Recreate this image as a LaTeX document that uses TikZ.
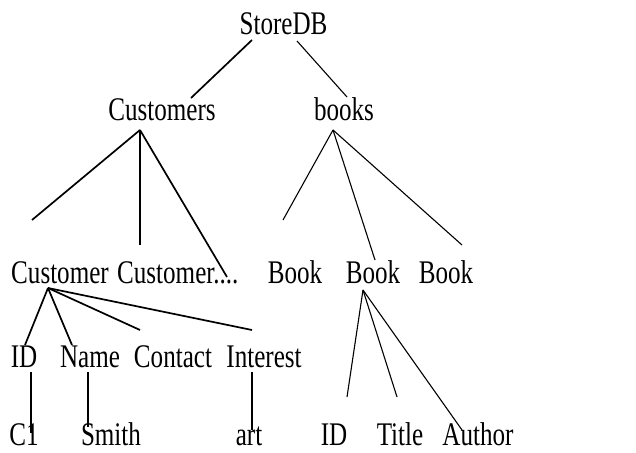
\documentclass[tikz,border=0pt]{standalone}
\usepackage{fontspec}
\setmainfont{Liberation Serif}[FakeStretch=0.76]
\tikzset{
  lbl/.style={anchor=base, inner sep=0pt, font=\fontsize{33}{36}\selectfont},
  bold line/.style={line width=1.7pt},
  thin line/.style={line width=1.1pt}
}
\begin{document}
\begin{tikzpicture}[x=1pt,y=-1pt]
        \useasboundingbox (0,0) rectangle (636,452);

        \node[lbl] (storedb) at (283.5,35) {StoreDB};
        \node[lbl] (customers) at (162,120) {Customers};
        \node[lbl] (books) at (344,120) {books};
        \node[lbl] (cust1) at (60,283) {Customer};
        \node[lbl, anchor=base west] (cust2) at (117,283) {Customer....};
        \node[lbl] (book1) at (295,283) {Book};
        \node[lbl] (book2) at (373,283) {Book};
        \node[lbl] (book3) at (446,283) {Book};
        \node[lbl] (id) at (24,367) {ID};
        \node[lbl] (name) at (90,367) {Name};
        \node[lbl] (contact) at (173,367) {Contact};
        \node[lbl] (interest) at (264,367) {Interest};
        \node[lbl] (c1) at (24,445) {C1};
        \node[lbl] (smith) at (111,445) {Smith};
        \node[lbl] (art) at (249,445) {art};
        \node[lbl] (bid) at (334,445) {ID};
        \node[lbl] (title) at (400,445) {Title};
        \node[lbl] (author) at (478,445) {Author};

        % branch points and line ends
        \coordinate (sdb-l) at (252,40);
        \coordinate (sdb-r) at (297,41);
        \coordinate (cs-top) at (191,98);
        \coordinate (bk-top) at (347,97);
        \coordinate (cs-hub) at (140,130);
        \coordinate (bk-hub) at (333,130);
        \coordinate (cust1-top) at (32,220);
        \coordinate (cust2-top) at (140,245);
        \coordinate (dots-top) at (227,277);
        \coordinate (book1-top) at (283,220);
        \coordinate (book2-top) at (375,260);
        \coordinate (book3-top) at (462,245);
        \coordinate (c1-hub) at (48,288);
        \coordinate (b2-hub) at (363,290);
        \coordinate (id-top) at (25,345);
        \coordinate (name-top) at (72,345);
        \coordinate (contact-top) at (140,330);
        \coordinate (interest-top) at (252,330);
        \coordinate (id-bot) at (31,372);
        \coordinate (c1-top) at (31,433);
        \coordinate (name-bot) at (88,372);
        \coordinate (smith-top) at (88,427);
        \coordinate (interest-bot) at (252,372);
        \coordinate (art-top) at (252,430);
        \coordinate (bid-top) at (347,397);
        \coordinate (title-top) at (397,397);
        \coordinate (author-top) at (462,430);

        \draw[bold line] (sdb-l) -- (cs-top);
        \draw[thin line] (sdb-r) -- (bk-top);

        \draw[bold line] (cs-hub) -- (cust1-top);
        \draw[thin line] (cs-hub) -- (cust2-top);
        \draw[bold line] (cs-hub) -- (dots-top);

        \draw[thin line] (bk-hub) -- (book1-top);
        \draw[thin line] (bk-hub) -- (book2-top);
        \draw[thin line] (bk-hub) -- (book3-top);

        \draw[bold line] (c1-hub) -- (id-top);
        \draw[bold line] (c1-hub) -- (name-top);
        \draw[bold line] (c1-hub) -- (contact-top);
        \draw[bold line] (c1-hub) -- (interest-top);

        \draw[thin line] (id-bot) -- (c1-top);
        \draw[thin line] (name-bot) -- (smith-top);
        \draw[thin line] (interest-bot) -- (art-top);

        \draw[thin line] (b2-hub) -- (bid-top);
        \draw[thin line] (b2-hub) -- (title-top);
        \draw[thin line] (b2-hub) -- (author-top);

    \end{tikzpicture}
\end{document}
